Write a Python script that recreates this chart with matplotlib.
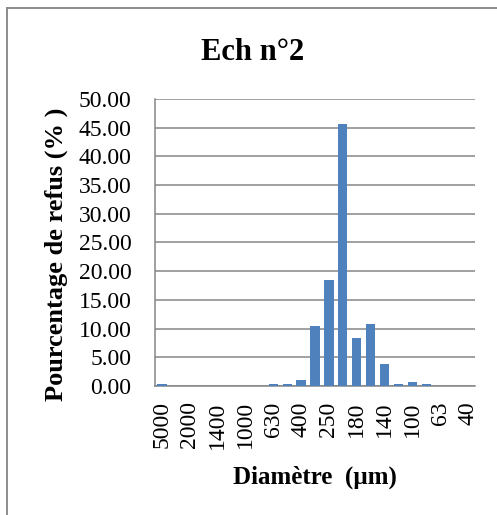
import matplotlib
matplotlib.use("Agg")
import matplotlib.pyplot as plt
from matplotlib.lines import Line2D

plt.rcParams['font.family'] = ['Liberation Serif', 'DejaVu Serif']

# sieve openings (µm), only every other one is labelled on the axis
diametres = ['5000', '3150', '2000', '1600', '1400', '1250', '1000', '800',
             '630', '500', '400', '315', '250', '200', '180', '160',
             '140', '125', '100', '80', '63', '50', '40']
refus = [0.4, 0.0, 0.0, 0.0, 0.0, 0.0, 0.0, 0.0,
         0.4, 0.4, 1.1, 10.5, 18.5, 45.6, 8.4, 10.8,
         3.9, 0.4, 0.75, 0.4, 0.0, 0.0, 0.0]
yticks = [0, 5, 10, 15, 20, 25, 30, 35, 40, 45, 50]

W, H = 497, 515
fig = plt.figure(figsize=(W / 100, H / 100), dpi=100)
ax = fig.add_axes([155 / W, 1 - 386 / H, 320 / W, 287 / H])

x = range(len(refus))
ax.bar(x, refus, width=0.67, color='#4F81BD', zorder=3)

ax.set_xlim(-0.5, len(refus) - 0.5)
ax.set_ylim(0, 50)
ax.set_yticks(yticks)
ax.set_yticklabels(['%.2f' % v for v in yticks], fontsize=17)
ax.set_xticks(list(x)[::2])
ax.set_xticklabels(diametres[::2], rotation=90, fontsize=17)
ax.tick_params(axis='both', length=0)
ax.tick_params(axis='y', pad=17)
ax.tick_params(axis='x', pad=11)

ax.grid(axis='y', color='#868686', lw=1.1, zorder=1)
for s in ['top', 'right']:
    ax.spines[s].set_visible(False)
for s in ['left', 'bottom']:
    ax.spines[s].set_color('#868686')
    ax.spines[s].set_linewidth(1.1)

fig.text(253 / W, 1 - 60 / H, 'Ech n°2', ha='center', va='baseline',
         fontsize=22, fontweight='bold')
fig.text(56 / W, 1 - 254 / H, 'Pourcentage de refus (% )', ha='center',
         va='center', rotation=90, fontsize=19, fontweight='bold')
fig.text(315 / W, 1 - 484 / H, 'Diamètre  (µm)', ha='center', va='baseline',
         fontsize=18, fontweight='bold')

# chart area border (top and left edges)
fig.add_artist(Line2D([7 / W, 1.0], [1 - 8 / H, 1 - 8 / H],
                      transform=fig.transFigure, color='#8c8c8c', lw=1.4))
fig.add_artist(Line2D([7 / W, 7 / W], [0.0, 1 - 8 / H],
                      transform=fig.transFigure, color='#8c8c8c', lw=1.4))

fig.savefig('out.png', dpi=100)
